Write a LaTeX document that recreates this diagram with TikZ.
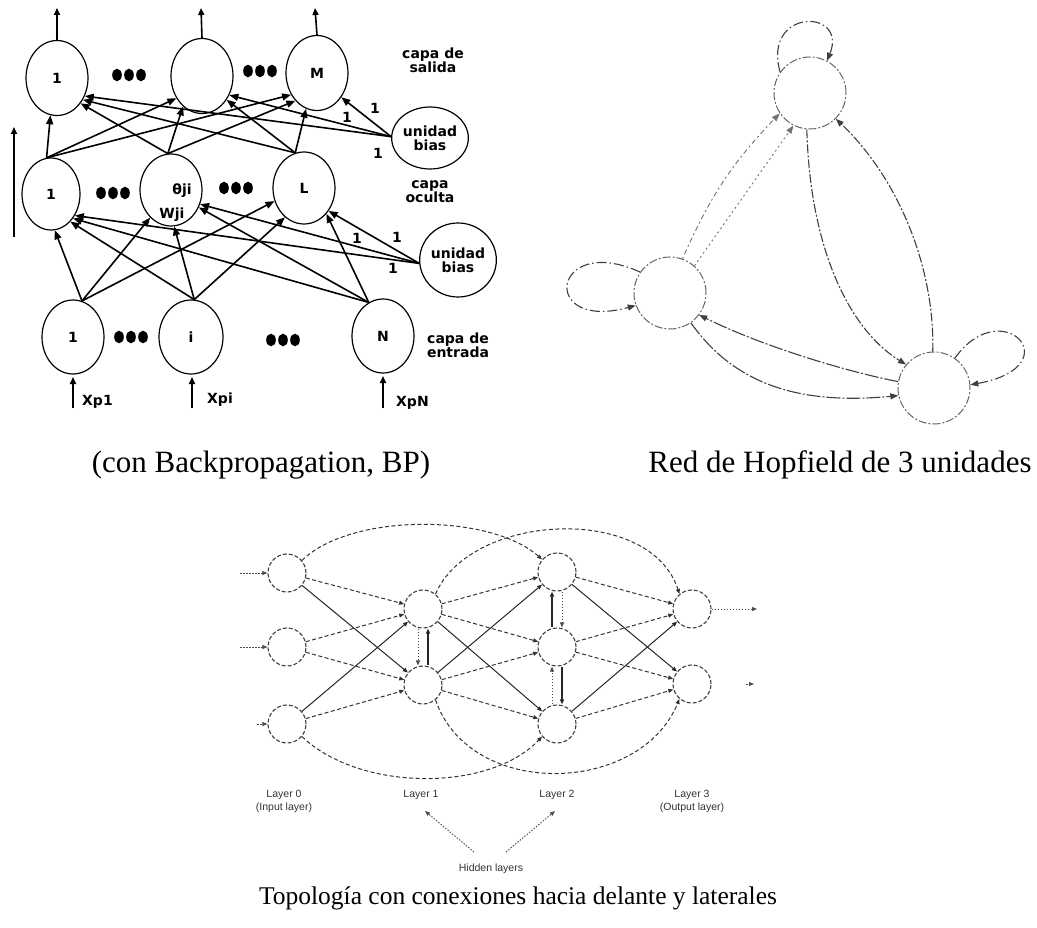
\documentclass[tikz,border=0pt]{standalone}
\usepackage{fontspec}
\setmainfont{Liberation Serif}
\newfontfamily\bpsans{DejaVu Sans}
\newfontfamily\ffsans{Liberation Sans}
\usetikzlibrary{arrows.meta,shapes.geometric,calc}

\newcommand\bpfont{\bpsans\bfseries\fontsize{14}{14}\selectfont}
\newcommand\fffont{\ffsans\fontsize{10.5}{13}\selectfont}

\tikzset{
  bpunit/.style={ellipse, draw, line width=1.2pt, inner sep=0pt, align=center,
                 font=\bpfont, minimum width=62pt, minimum height=75pt},
  bplink/.style={line width=1.6pt, -{Triangle[length=9pt,width=7pt]}},
  bpin/.style={line width=1.6pt, -{Triangle[length=7pt,width=6pt]}},
  bptxt/.style={font=\bpfont, inner sep=0pt, align=center},
  hopunit/.style={circle, draw=black!60, line width=1pt,
                  dash pattern=on 8pt off 2pt on 2pt off 2pt,
                  minimum size=72pt, inner sep=0pt},
  hoplink/.style={draw=black!75, line width=1.1pt,
                  dash pattern=on 9pt off 2pt on 2pt off 2pt,
                  -{Triangle[length=8pt,width=6pt]}},
  hopfaint/.style={hoplink, draw=black!55, line width=0.9pt,
                   dash pattern=on 2pt off 3pt on 5pt off 3pt},
  hoploop/.style={hoplink, dash pattern=on 10pt off 3pt on 1.5pt off 3pt},
  ffunit/.style={circle, draw=black!75, line width=1.1pt,
                 dash pattern=on 4pt off 2pt, minimum size=38pt, inner sep=0pt},
  ffd/.style={draw=black!80, line width=1pt, dash pattern=on 4pt off 2.5pt,
              -{Triangle[length=5pt,width=4pt]}},
  ffs/.style={draw=black!85, line width=1pt, -{Triangle[length=5pt,width=4pt]}},
  ffdot/.style={draw=black!70, line width=0.9pt, dash pattern=on 1.5pt off 1.5pt,
                -{Triangle[length=5pt,width=4pt]}},
  fftxt/.style={font=\fffont, text=black!80, inner sep=0pt, align=center},
  caption/.style={anchor=base, inner sep=0pt}
}

\begin{document}
\begin{tikzpicture}[x=1pt,y=-1pt]
\useasboundingbox (0,0) rectangle (1037,928);

% ---------------- multilayer perceptron ----------------
\node[bpunit] (O1) at (57,78) {1};
\node[bpunit] (O2) at (202,76) {};
\node[bpunit] (OM) at (317,73) {M};
\node[bpunit, minimum width=58pt, minimum height=72pt] (H1) at (51,194) {1};
\node[bpunit, minimum height=72pt] (HB) at (171,190) {};
\node[bpunit, minimum height=72pt] (HL) at (304,188) {L};
\node[bpunit, minimum height=74pt] (I1) at (73,337) {1};
\node[bpunit, minimum width=64pt, minimum height=74pt] (Ii) at (191,337) {i};
\node[bpunit, minimum height=74pt] (IN) at (383,336) {N};
\node[bpunit, minimum width=62pt, minimum height=62pt] (BU) at (430,138) {unidad\\bias};
\node[bpunit, minimum width=54pt, minimum height=74pt] (BL) at (458,260) {unidad\\bias};

\node[bptxt] (theta) at (182,191) {θji};
\node[bptxt] (wji) at (172,215) {Wji};

\node[bptxt] (capaS) at (433,60) {capa de\\salida};
\node[bptxt] (capaO) at (430,192) {capa\\oculta};
\node[bptxt] (capaE) at (458,345) {capa de\\entrada};

% ellipsis dots
\foreach \cx/\cy in {129/75, 260/71, 113/193, 236/188, 131/337, 283/340}
  \foreach \dx in {-12,0,12}
    \fill (\cx+\dx,\cy) ellipse [x radius=4.8pt, y radius=6.3pt];

% outputs
\coordinate (o1top) at (57,8);
\coordinate (o2top) at (201,8);
\coordinate (omtop) at (315,8);
\draw[bpin] (O1.north) -- (o1top);
\draw[bpin] (O2.north) -- (o2top);
\draw[bpin] (OM.north) -- (omtop);

% vertical arrow at the left
\coordinate (vbot) at (14,237);
\coordinate (vtop) at (14,127);
\draw[bpin] (vbot) -- (vtop);

% inputs
\coordinate (x1) at (73,408);  \coordinate (x1t) at (73,377);
\coordinate (xi) at (192,408); \coordinate (xit) at (192,377);
\coordinate (xn) at (383,408); \coordinate (xnt) at (383,376);
\draw[bpin] (x1) -- (x1t);
\draw[bpin] (xi) -- (xit);
\draw[bpin] (xn) -- (xnt);
\node[bptxt, anchor=west] (lx1) at (82,402) {Xp1};
\node[bptxt, anchor=west] (lxi) at (207,400) {Xpi};
\node[bptxt, anchor=west] (lxn) at (396,403) {XpN};

% hidden -> output
\draw[bplink] (H1.97) -- (O1.-100);
\draw[bplink] (H1.97) -- (O2.221);
\draw[bplink] (H1.97) -- (OM.220);
\draw[bplink] (HB.95) -- (O1.-47);
\draw[bplink] (HB.95) -- (O2.238);
\draw[bplink] (HB.95) -- (OM.232);
\draw[bplink] (HL.104) -- (O1.-40);
\draw[bplink] (HL.104) -- (O2.-44);
\draw[bplink] (HL.104) -- (OM.253);
% bias -> output
\draw[bplink] (BU.178) -- (O1.-33);
\draw[bplink] (BU.178) -- (O2.-35);
\draw[bplink] (BU.178) -- (OM.-45);
\node[bptxt] (w1a) at (375,108) {1};
\node[bptxt] (w1b) at (347,117) {1};
\node[bptxt] (w1c) at (378,153) {1};

% input -> hidden
\draw[bplink] (I1.76) -- (H1.-84);
\draw[bplink] (I1.76) -- (HB.233);
\draw[bplink] (I1.76) -- (HL.204);
\draw[bplink] (Ii.85) -- (H1.-55);
\draw[bplink] (Ii.85) -- (HB.-85);
\draw[bplink] (Ii.85) -- (HL.237);
\draw[bplink] (IN.113) -- (H1.-48);
\draw[bplink] (IN.113) -- (HB.-32);
\draw[bplink] (IN.113) -- (HL.-49);
% bias -> hidden
\draw[bplink] (BL.185) -- (H1.-42);
\draw[bplink] (BL.185) -- (HB.-26);
\draw[bplink] (BL.185) -- (HL.-43);
\node[bptxt] (w2a) at (397,237) {1};
\node[bptxt] (w2b) at (357,238) {1};
\node[bptxt] (w2c) at (393,268) {1};

% ---------------- Hopfield network ----------------
\node[hopunit] (T)  at (810,93) {};
\node[hopunit] (Lf) at (670,293) {};
\node[hopunit] (BR) at (934,388) {};

\draw[hoploop] (T.145) .. controls (762,8) and (848,8) .. (T.62);
\draw[hoploop] (Lf.145) .. controls (552,232) and (538,332) .. (Lf.200);
\draw[hoploop] (BR.55) .. controls (1002,292) and (1072,366) .. (BR.5);

\draw[hopfaint] (Lf.70) to[bend left=10] (T.214);
\draw[hopfaint, dash pattern=on 2pt off 3pt] (Lf.48) -- (T.243);
\draw[hoplink] (T.-95) .. controls (810,250) and (850,330) .. (BR.140);
\draw[hoplink] (BR.92) .. controls (935,270) and (900,180) .. (T.-45);
\draw[hoplink, dash pattern=on 14pt off 2pt on 2pt off 2pt] (BR.170) .. controls (840,370) and (760,345) .. (Lf.-37);
\draw[hoplink, dash pattern=on 14pt off 2pt on 2pt off 2pt] (Lf.-55) .. controls (735,385) and (800,405) .. (BR.192);

% ---------------- layered network with lateral links ----------------
\node[ffunit] (A1) at (287,573) {};
\node[ffunit] (A2) at (287,647) {};
\node[ffunit] (A3) at (287,724) {};
\node[ffunit] (B1) at (423,609) {};
\node[ffunit] (B2) at (423,685) {};
\node[ffunit] (C1) at (557,572) {};
\node[ffunit] (C2) at (557,647) {};
\node[ffunit] (C3) at (557,724) {};
\node[ffunit] (D1) at (692,609) {};
\node[ffunit] (D2) at (692,684) {};

\coordinate (in1) at (240,573);
\coordinate (in2) at (240,647);
\coordinate (in3) at (257,724);
\draw[ffdot] (in1) -- (A1);
\draw[ffdot] (in2) -- (A2);
\draw[ffdot] (in3) -- (A3);
\coordinate (out1) at (757,609);
\coordinate (out2a) at (746,684);
\coordinate (out2) at (754,684);
\draw[ffdot] (D1) -- (out1);
\draw[ffdot] (out2a) -- (out2);

\draw[ffd] (A1) -- (B1);
\draw[ffs] (A1) -- (B2);
\draw[ffd] (A2) -- (B1);
\draw[ffd] (A2) -- (B2);
\draw[ffs] (A3) -- (B1);
\draw[ffd] (A3) -- (B2);
\draw[ffd] (B1) -- (C1);
\draw[ffd] (B1) -- (C2);
\draw[ffs] (B1) -- (C3);
\draw[ffs] (B2) -- (C1);
\draw[ffd] (B2) -- (C2);
\draw[ffd] (B2) -- (C3);
\draw[ffd] (C1) -- (D1);
\draw[ffs] (C1) -- (D2);
\draw[ffd] (C2) -- (D1);
\draw[ffd] (C2) -- (D2);
\draw[ffs] (C3) -- (D1);
\draw[ffd] (C3) -- (D2);

% skip connections
\draw[ffd] (A1.40) .. controls (350,513) and (490,513) .. (C1.140);
\draw[ffd] (B1.50) .. controls (470,513) and (650,503) .. (D1.130);
\draw[ffd] (A3.-40) .. controls (360,792) and (490,792) .. (C3.-140);
\draw[ffd] (B2.-50) .. controls (470,800) and (640,795) .. (D2.-130);

% lateral links
\draw[ffdot] ($(B1.south)+(-5,0)$) -- ($(B2.north)+(-5,0)$);
\draw[ffs, line width=2pt] ($(B2.north)+(5,0)$) -- ($(B1.south)+(5,0)$);
\draw[ffs, line width=1.6pt] ($(C2.north)+(-5,0)$) -- ($(C1.south)+(-5,0)$);
\draw[ffdot] ($(C1.south)+(5,0)$) -- ($(C2.north)+(5,0)$);
\draw[ffdot] ($(C3.north)+(-5,0)$) -- ($(C2.south)+(-5,0)$);
\draw[ffs, line width=1.6pt] ($(C2.south)+(5,0)$) -- ($(C3.north)+(5,0)$);

\node[fftxt] (la0) at (284,801) {Layer 0\\(Input layer)};
\node[fftxt] (la1) at (421,795) {Layer 1};
\node[fftxt] (la2) at (557,795) {Layer 2};
\node[fftxt] (la3) at (692,801) {Layer 3\\(Output layer)};
\node[fftxt] (hid) at (491,869) {Hidden layers};
\coordinate (h1s) at (474,852);
\coordinate (h1t) at (425,811);
\coordinate (h2s) at (506,852);
\coordinate (h2t) at (555,811);
\draw[ffdot] (h1s) -- (h1t);
\draw[ffdot] (h2s) -- (h2t);

% ---------------- captions ----------------
\node[caption, font=\fontsize{31}{36}\selectfont] (cap1) at (261,472) {(con Backpropagation, BP)};
\node[caption, font=\fontsize{31}{36}\selectfont] (cap2) at (840,472) {Red de Hopfield de 3 unidades};
\node[caption, font=\fontsize{25.5}{30}\selectfont] (cap3) at (518,904) {Topología con conexiones hacia delante y laterales};
\end{tikzpicture}
\end{document}
